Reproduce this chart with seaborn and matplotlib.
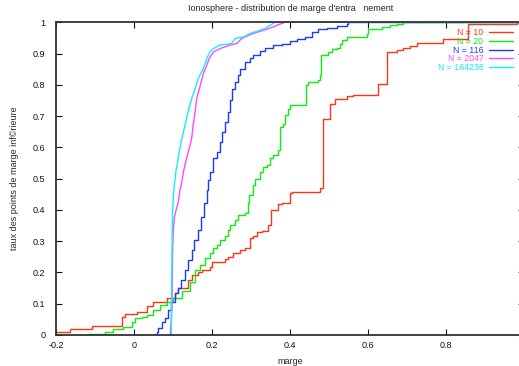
import matplotlib
matplotlib.use("Agg")
import matplotlib.pyplot as plt
import seaborn as sns
import pandas as pd
import numpy as np

# ---- data ----
labels = ["N = 10", "N = 20", "N = 116", "N = 2047", "N = 164238"]

red_x = [-0.2, -0.165, -0.109, -0.032, -0.024, 0.006, 0.032, 0.049, 0.083, 0.104,
         0.113, 0.138, 0.147, 0.164, 0.173, 0.194, 0.198, 0.233, 0.241, 0.254,
         0.271, 0.284, 0.297, 0.305, 0.314, 0.327, 0.344, 0.35, 0.369, 0.378,
         0.399, 0.404, 0.476, 0.483, 0.502, 0.515, 0.545, 0.562, 0.626, 0.647,
         0.673, 0.69, 0.707, 0.724, 0.792, 0.856, 0.98, 1.0]
red_y = [0.008, 0.019, 0.03, 0.058, 0.067, 0.074, 0.094, 0.104, 0.117, 0.133,
         0.149, 0.176, 0.192, 0.202, 0.208, 0.218, 0.234, 0.242, 0.25, 0.261,
         0.272, 0.279, 0.309, 0.317, 0.328, 0.333, 0.351, 0.40, 0.418, 0.423,
         0.455, 0.458, 0.469, 0.692, 0.74, 0.754, 0.765, 0.767, 0.804, 0.905,
         0.91, 0.919, 0.924, 0.935, 0.948, 0.994, 1.0, 1.0]

green_x = [-0.122, -0.075, -0.054, -0.028, -0.007, 0.002, 0.019, 0.032, 0.049, 0.066,
           0.083, 0.1, 0.122, 0.143, 0.156, 0.168, 0.181, 0.194, 0.203, 0.211,
           0.22, 0.233, 0.241, 0.245, 0.258, 0.267, 0.284, 0.292, 0.294, 0.305,
           0.309, 0.322, 0.331, 0.339, 0.348, 0.356, 0.369, 0.374, 0.382, 0.386,
           0.395, 0.399, 0.44, 0.446, 0.472, 0.476, 0.478, 0.497, 0.506, 0.519,
           0.527, 0.532, 0.545, 0.596, 0.6, 0.634, 0.656, 0.673, 0.69, 1.0]
green_y = [0.003, 0.011, 0.019, 0.027, 0.042, 0.053, 0.059, 0.064, 0.08, 0.096,
           0.107, 0.117, 0.142, 0.17, 0.208, 0.224, 0.245, 0.261, 0.277, 0.288,
           0.304, 0.316, 0.335, 0.351, 0.367, 0.383, 0.389, 0.421, 0.447, 0.479,
           0.5, 0.522, 0.538, 0.543, 0.565, 0.575, 0.591, 0.665, 0.676, 0.703,
           0.724, 0.737, 0.799, 0.809, 0.815, 0.831, 0.895, 0.905, 0.916, 0.919,
           0.932, 0.942, 0.953, 0.964, 0.98, 0.985, 0.99, 0.993, 1.0, 1.0]

blue_x = [0.05, 0.058, 0.062, 0.07, 0.079, 0.087, 0.094, 0.104, 0.113, 0.12,
          0.13, 0.137, 0.147, 0.154, 0.164, 0.171, 0.179, 0.186, 0.19, 0.194,
          0.203, 0.211, 0.22, 0.224, 0.233, 0.241, 0.245, 0.25, 0.258, 0.267,
          0.271, 0.284, 0.297, 0.305, 0.322, 0.335, 0.356, 0.378, 0.399, 0.416,
          0.438, 0.455, 0.472, 0.493, 0.519, 0.545, 0.549, 1.0]
blue_y = [0.0, 0.01, 0.021, 0.042, 0.053, 0.08, 0.105, 0.133, 0.149, 0.176,
          0.208, 0.24, 0.272, 0.304, 0.335, 0.378, 0.421, 0.463, 0.495, 0.522,
          0.565, 0.586, 0.618, 0.65, 0.68, 0.714, 0.751, 0.788, 0.809, 0.831,
          0.852, 0.873, 0.886, 0.895, 0.908, 0.919, 0.927, 0.932, 0.939, 0.946,
          0.953, 0.969, 0.977, 0.982, 0.988, 0.994, 1.0, 1.0]

magenta_x = [0.092, 0.095, 0.097, 0.098, 0.1, 0.103, 0.107, 0.113, 0.117, 0.122,
             0.126, 0.134, 0.143, 0.147, 0.151, 0.156, 0.16, 0.168, 0.177, 0.186,
             0.192, 0.203, 0.22, 0.245, 0.263, 0.275, 0.292, 0.305, 0.322, 0.345,
             0.365, 0.386, 1.0]
magenta_y = [0.0, 0.05, 0.101, 0.261, 0.335, 0.378, 0.399, 0.426, 0.463, 0.490,
             0.522, 0.565, 0.607, 0.628, 0.671, 0.714, 0.756, 0.793, 0.836, 0.863,
             0.884, 0.905, 0.916, 0.927, 0.932, 0.948, 0.958, 0.964, 0.971, 0.98,
             0.99, 1.0, 1.0]

cyan_x = [0.095, 0.096, 0.097, 0.098, 0.1, 0.102, 0.105, 0.107, 0.11, 0.115,
          0.122, 0.13, 0.138, 0.147, 0.156, 0.164, 0.177, 0.186, 0.194, 0.203,
          0.22, 0.25, 0.258, 0.28, 0.297, 0.314, 0.335, 0.361, 1.0]
cyan_y = [0.0, 0.176, 0.3, 0.389, 0.44, 0.474, 0.5, 0.527, 0.543, 0.586,
          0.628, 0.671, 0.714, 0.756, 0.788, 0.82, 0.852, 0.884, 0.905, 0.916,
          0.927, 0.932, 0.948, 0.953, 0.964, 0.971, 0.98, 1.0, 1.0]

x_ticks = [-0.2, 0, 0.2, 0.4, 0.6, 0.8]
y_ticks = [0, 0.1, 0.2, 0.3, 0.4, 0.5, 0.6, 0.7, 0.8, 0.9, 1]

colors = ["#ff3418", "#10ee10", "#1a3cf0", "#ff48ff", "#10eeff"]

series = [(red_x, red_y, "steps-post"), (green_x, green_y, "steps-post"),
          (blue_x, blue_y, "steps-post"), (magenta_x, magenta_y, "default"),
          (cyan_x, cyan_y, "default")]

# ---- style ----
sns.set_style("ticks")
plt.rcParams["font.family"] = ["Liberation Sans", "DejaVu Sans"]
plt.rcParams["axes.unicode_minus"] = False
plt.rcParams["font.size"] = 6.5

W, H = 519, 366
fig = plt.figure(figsize=(W / 100, H / 100), dpi=100)
left, right, bottom, top = 56.3, 524.3, 335.0, 22.3
ax = fig.add_axes([left / W, 1 - bottom / H, (right - left) / W, (bottom - top) / H])

for (xs, ys, ds), lab, col in zip(series, labels, colors):
    df = pd.DataFrame({"marge": xs, "taux": ys})
    sns.lineplot(data=df, x="marge", y="taux", ax=ax, color=col, lw=1.0,
                 drawstyle=ds, estimator=None, sort=False, label=lab)

ax.set_xlim(-0.2, 1.0)
ax.set_ylim(0, 1)
ax.set_xticks(x_ticks)
ax.set_xticklabels([f"{v:g}" for v in x_ticks])
ax.set_yticks(y_ticks)
ax.set_yticklabels([f"{v:g}" for v in y_ticks])
ax.tick_params(direction="in", length=4, width=0.8, top=True, right=True,
               labelsize=6.5, colors="#111111")
ax.tick_params(axis="x", pad=4)
ax.tick_params(axis="y", pad=8)
for s in ax.spines.values():
    s.set_linewidth(1.3)
    s.set_color("#333333")

ax.set_xlabel("marge", fontsize=6.5, labelpad=5)
ax.set_ylabel("taux des points de marge inf©rieure", fontsize=6.5, labelpad=10)
ax.set_title("Ionosphere - distribution de marge d'entra   nement", fontsize=6.5, pad=8)

leg = ax.legend(loc="upper right", bbox_to_anchor=(0.976, 0.981), frameon=False,
                markerfirst=False, fontsize=6.3, handlelength=2.8, handletextpad=0.6,
                labelspacing=-0.03, borderpad=0, borderaxespad=0)
for txt, col in zip(leg.get_texts(), colors):
    txt.set_color(col)
    txt.set_ha("right")

fig.savefig("out.png", dpi=100)
